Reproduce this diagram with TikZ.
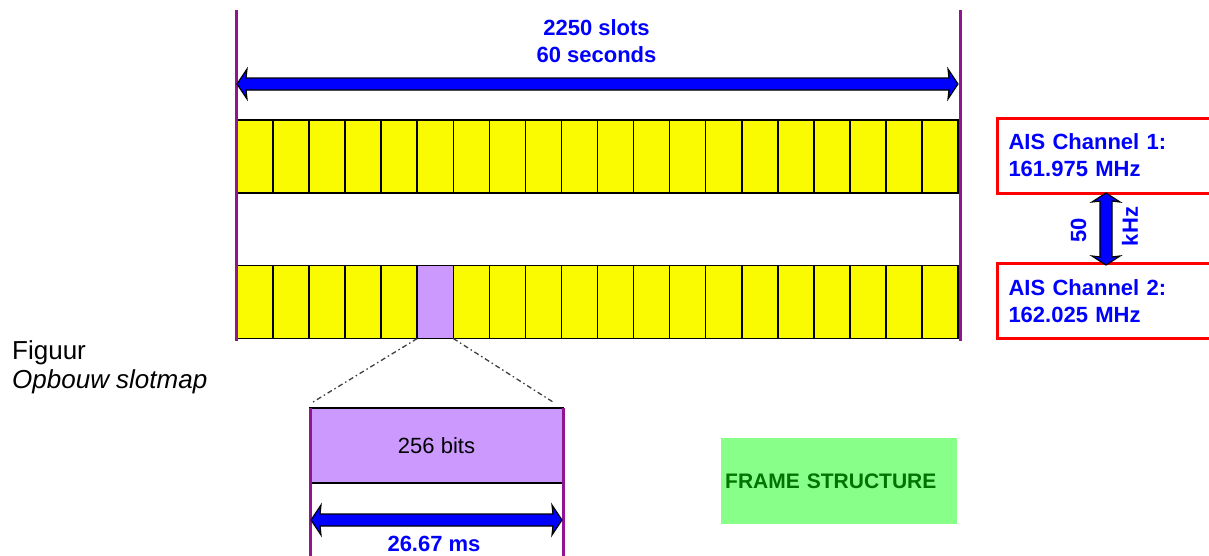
\documentclass[tikz,border=0pt]{standalone}
\usepackage{fontspec}
\setmainfont{Liberation Sans}
\usetikzlibrary{calc}
\definecolor{slotyellow}{RGB}{250,250,0}
\definecolor{framepurple}{RGB}{145,20,145}
\definecolor{slotlilac}{RGB}{204,153,255}
\definecolor{aisblue}{RGB}{0,0,255}
\definecolor{aisred}{RGB}{255,0,0}
\definecolor{lightgreen}{RGB}{136,255,136}
\definecolor{darkgreen}{RGB}{0,115,0}
\newcommand{\harrowpoly}[3]{%
  \filldraw[fill=aisblue,draw=black,line width=1.2]
    (#1,#3) -- ({#1+10},{#3-15}) -- ({#1+9},{#3-6}) -- ({#2-9},{#3-6}) -- ({#2-10},{#3-15}) -- (#2,#3)
    -- ({#2-10},{#3+15}) -- ({#2-9},{#3+6}) -- ({#1+9},{#3+6}) -- ({#1+10},{#3+15}) -- cycle;}
\newcommand{\varrowpoly}[3]{%
  \filldraw[fill=aisblue,draw=black,line width=1.2]
    (#1,#2) -- ({#1-14},{#2+9}) -- ({#1-6},{#2+8}) -- ({#1-6},{#3-8}) -- ({#1-14},{#3-9}) -- (#1,#3)
    -- ({#1+14},{#3-9}) -- ({#1+6},{#3-8}) -- ({#1+6},{#2+8}) -- ({#1+14},{#2+9}) -- cycle;}
\tikzset{
  slotbox/.style={draw=black,line width=1.6,fill=slotyellow,minimum width=36.05,minimum height=73,inner sep=0,outer sep=0},
  bluelabel/.style={text=aisblue,font=\fontsize{22}{26.5}\selectfont\bfseries,inner sep=0},
  chanbox/.style={draw=aisred,line width=3,minimum height=75,text width=220,inner xsep=11,align=left,
     text=aisblue,font=\fontsize{22}{27}\selectfont\bfseries,anchor=west},
  frameline/.style={draw=framepurple,line width=3},
  zoomline/.style={draw=black!75,line width=1.3,dash pattern=on 5pt off 3pt on 1.5pt off 3pt},
  caption/.style={anchor=base west,inner sep=0,font=\fontsize{26}{30}\selectfont}
}
\begin{document}
\begin{tikzpicture}[x=1pt,y=-1pt]
\useasboundingbox (0,0) rectangle (1209,555);
\clip (0,0) rectangle (1209,555);
\fill[white] (0,0) rectangle (1209,555);
% top span label and arrow
\node[bluelabel,align=center] (span) at (596.5,41) {2250 slots\\60 seconds};
% slot rows
\foreach \i in {1,...,20} {
  \node[slotbox] (t\i) at ({237+36.05*(\i-0.5)},156.5) {};
  \node[slotbox] (b\i) at ({237+36.05*(\i-0.5)},302) {};
}
\node[slotbox,fill=slotlilac] (b6) at ({237+36.05*5.5},302) {};
\coordinate (fl1) at (236,10);
\coordinate (fl2) at (236,341);
\coordinate (fr1) at (960,10);
\coordinate (fr2) at (960,341);
\draw[frameline] (fl1) -- (fl2);
\draw[frameline] (fr1) -- (fr2);
\harrowpoly{237}{958}{84}
% channel boxes
\node[chanbox] (ch1) at (996,155.5) {AIS Channel 1:\\161.975 MHz};
\node[chanbox] (ch2) at (996,301) {AIS Channel 2:\\162.025 MHz};
\varrowpoly{1106}{193}{265}
\node[bluelabel,rotate=90] (fifty) at (1078.5,230.5) {50};
\node[bluelabel,rotate=90] (khz) at (1130,226.5) {kHz};
% caption
\node[caption] (fig) at (12,359) {Figuur};
\node[caption,font=\fontsize{26}{30}\selectfont\itshape] (opb) at (12,388) {Opbouw slotmap};
% zoomed slot
\node[draw=black,line width=1.2,fill=slotlilac,minimum width=253,minimum height=75,inner sep=0,
      font=\fontsize{22}{26}\selectfont] (bits) at (436.5,445.5) {256 bits};
\draw[zoomline] (b6.south west) -- ($(bits.north west)+(3,-5)$);
\draw[zoomline] (b6.south east) -- ($(bits.north east)+(-10,-5)$);
\coordinate (bl1) at (310,408);
\coordinate (bl2) at (310,560);
\coordinate (br1) at (563,408);
\coordinate (br2) at (563,560);
\draw[frameline] (bl1) -- (bl2);
\draw[frameline] (br1) -- (br2);
\harrowpoly{311}{562}{520}
\node[bluelabel,anchor=base] (dur) at (434,551) {26.67 ms};
% frame structure
\node[fill=lightgreen,minimum width=236,minimum height=86,text width=228,inner xsep=4,align=left,
      text=darkgreen,font=\fontsize{21}{25}\selectfont\bfseries,anchor=north west] (frame) at (721,438) {FRAME STRUCTURE};
\end{tikzpicture}
\end{document}
